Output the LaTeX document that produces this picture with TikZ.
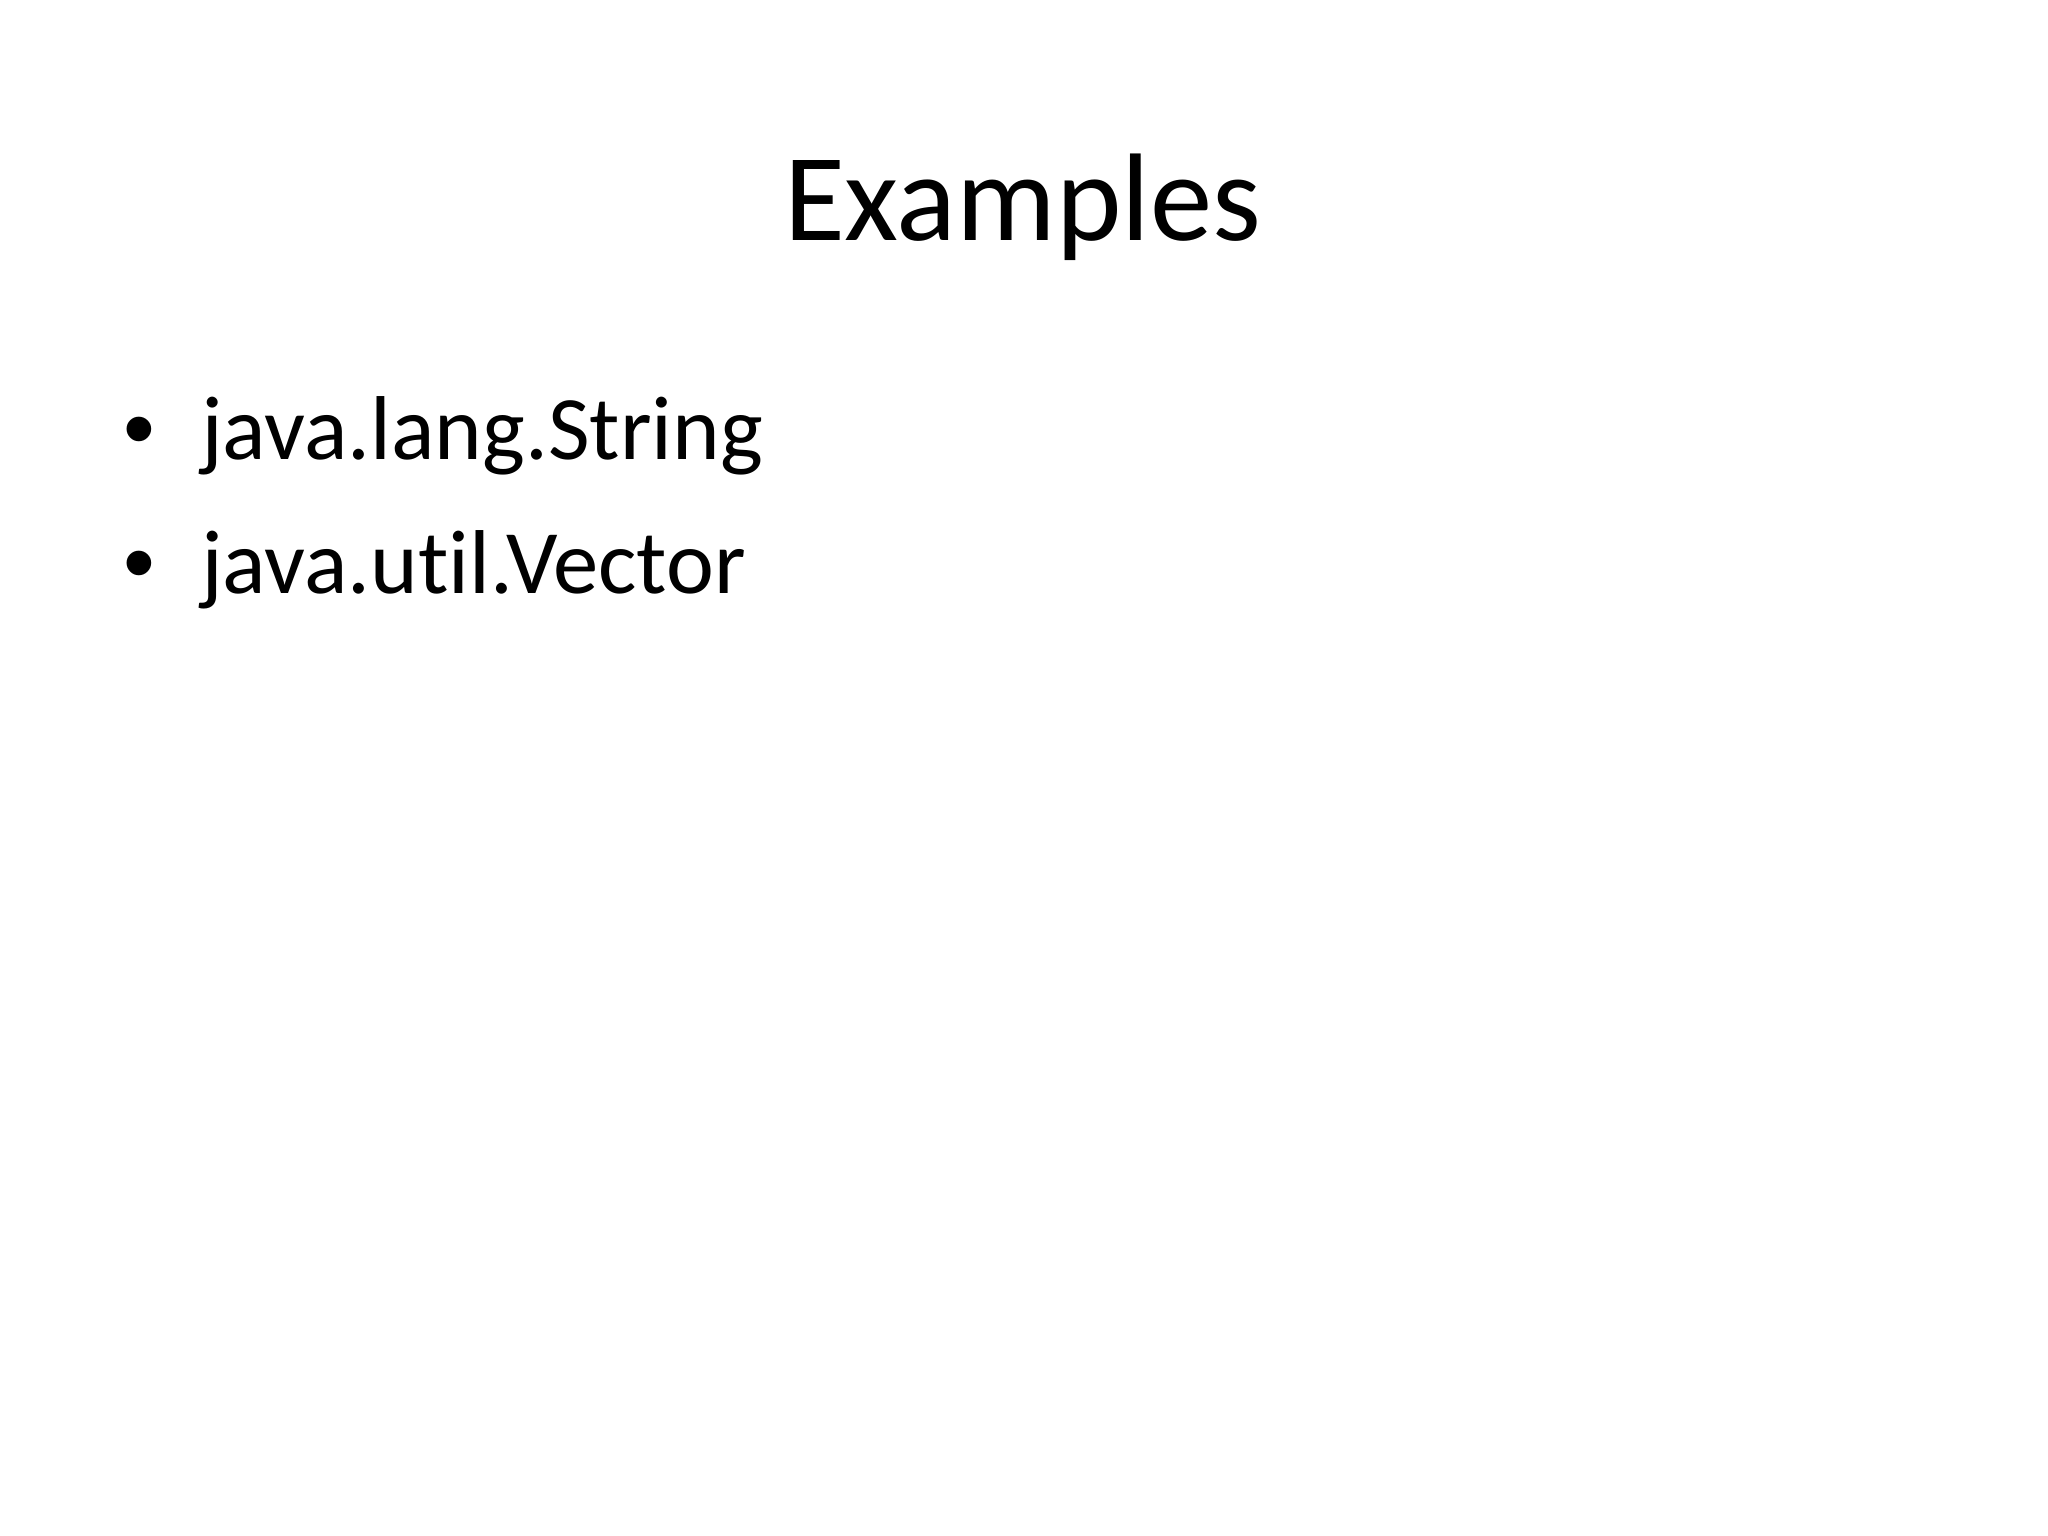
\documentclass[tikz,border=0pt]{standalone}
\usepackage{fontspec}
\setmainfont[Ligatures=NoCommon]{Carlito}
\newfontfamily\bulletfont{Liberation Sans}
\begin{document}
\begin{tikzpicture}[x=1bp,y=-1bp,
  titletext/.style={font=\fontsize{44}{53}\selectfont, inner sep=0pt, anchor=base},
  itemtext/.style={font=\fontsize{32}{38}\selectfont, inner sep=0pt, anchor=base west},
  bullettext/.style={font=\bulletfont\fontsize{32}{38}\selectfont, inner sep=0pt, anchor=base}]
\useasboundingbox[fill=white] (0,0) rectangle (720,540);
\node[titletext] (title) at (359.5,84.5) {Examples};
\node[bullettext] (b1) at (49,161.7) {•};
\node[itemtext] (i1) at (70.5,161.7) {java.lang.String};
\node[bullettext] (b2) at (49,208.6) {•};
\node[itemtext] (i2) at (70.5,208.6) {java.util.Vector};
\end{tikzpicture}
\end{document}
